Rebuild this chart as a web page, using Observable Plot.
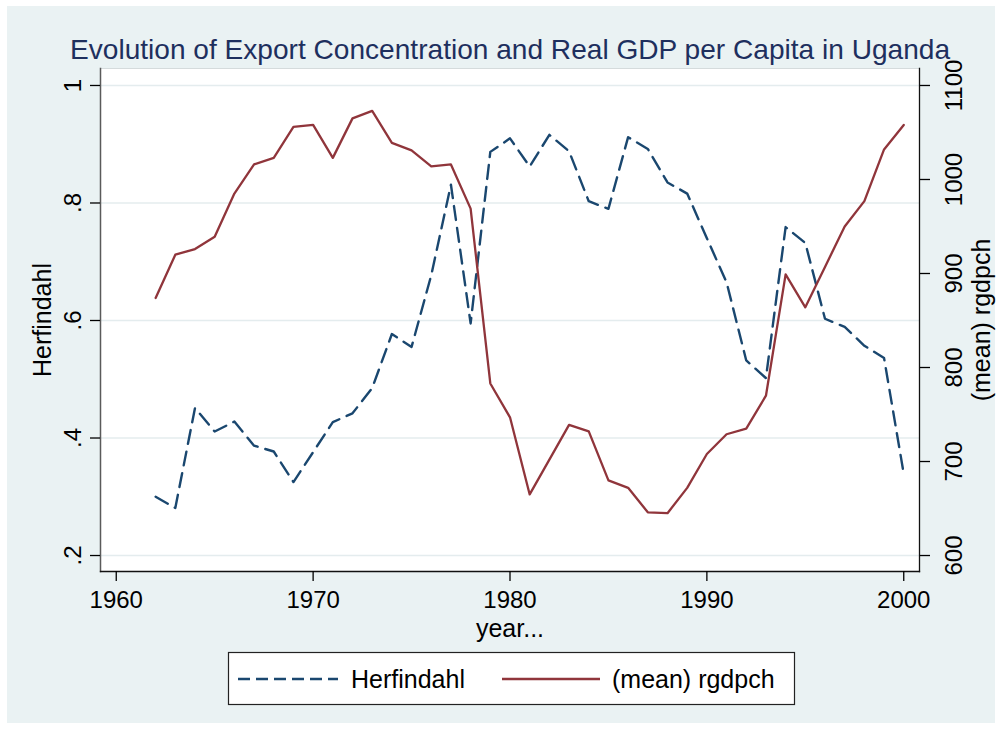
<!DOCTYPE html>
<html><head><meta charset="utf-8">
<script src="https://cdn.jsdelivr.net/npm/d3@7"></script>
<script src="https://cdn.jsdelivr.net/npm/@observablehq/plot@0.6"></script>
<style>
html,body{margin:0;padding:0;background:#fff;}
#wrap{position:relative;width:1000px;height:729px;overflow:hidden;}
#bg{position:absolute;left:7px;top:6px;width:988px;height:717px;background:#eaf2f3;}
#chart{position:absolute;left:0;top:0;}
</style></head><body>
<div id="wrap"><div id="bg"></div><div id="chart"></div></div>
<script>
const title = "Evolution of Export Concentration and Real GDP per Capita in Uganda";
const years = [1962,1963,1964,1965,1966,1967,1968,1969,1970,1971,1972,1973,1974,1975,1976,1977,1978,1979,1980,
  1981,1982,1983,1984,1985,1986,1987,1988,1989,1990,1991,1992,1993,1994,1995,1996,1997,1998,1999,2000];
const herfindahl = [0.300,0.281,0.451,0.411,0.428,0.387,0.377,0.325,0.376,0.427,0.442,0.485,0.577,0.555,0.677,0.831,0.595,0.887,0.910,
  0.862,0.916,0.888,0.803,0.790,0.912,0.892,0.835,0.816,0.740,0.665,0.532,0.502,0.759,0.732,0.603,0.589,0.557,0.536,0.339];
const rgdpch = [874,920,926,939,985,1016,1023,1056,1058,1023,1065,1073,1039,1031,1014,1016,969,783,747,
  665,702,739,732,680,672,646,645,672,708,729,735,770,899,864,907,950,977,1032,1058];
const xTicks = [1960,1970,1980,1990,2000];
const hTicks = [0.2,0.4,0.6,0.8,1];
const gTicks = [600,700,800,900,1000,1100];
const seriesNames = ["Herfindahl","(mean) rgdpch"];
const xTitle = "year...";

const FONT = "'Liberation Sans', Arial, Helvetica, sans-serif";
const BLUE = "#1a476f", RED = "#90353b";
const toV = g => 0.2 + (g - 600) / 500 * 0.8;
const fromV = v => 600 + (v - 0.2) / 0.8 * 500;
const fmtH = d => d === 1 ? "1" : String(+d.toFixed(1)).replace(/^0/, "");
const data = years.map((year, i) => ({year, h: herfindahl[i], g: rgdpch[i]}));

const plot = Plot.plot({
  width: 1000, height: 729,
  marginLeft: 100, marginRight: 81, marginTop: 68, marginBottom: 158,
  style: {background: "transparent", fontFamily: FONT, fontSize: "24px", color: "#000", overflow: "visible"},
  x: {domain: [1959.2, 2000.8], axis: null},
  y: {domain: [0.1728, 1.0289], axis: null},
  marks: [
    Plot.frame({fill: "white", stroke: null}),
    Plot.ruleY(hTicks, {stroke: "#e4ecee", strokeWidth: 1.6}),
    Plot.frame({anchor: "top", stroke: "#d5dbdc"}),
    Plot.frame({anchor: "left", stroke: "#5a5a5a", strokeWidth: 1.5}),
    Plot.frame({anchor: "right", stroke: "#111", strokeWidth: 1.3}),
    Plot.frame({anchor: "bottom", stroke: "#111", strokeWidth: 1.3}),
    Plot.axisX(xTicks, {anchor: "bottom", tickSize: 10, tickPadding: 9, strokeWidth: 1.3, tickFormat: d => String(d), label: null}),
    Plot.axisY(hTicks, {anchor: "left", tickSize: 10, tickPadding: 10, strokeWidth: 1.3, tickRotate: -90, tickFormat: fmtH, label: null}),
    Plot.axisY(gTicks.map(toV), {anchor: "right", tickSize: 10, tickPadding: 32, strokeWidth: 1.3, tickRotate: -90, lineAnchor: "bottom",
      tickFormat: v => String(Math.round(fromV(v))), label: null}),
    Plot.line(data, {x: "year", y: "h", stroke: BLUE, strokeWidth: 2.4, strokeDasharray: "14,8"}),
    Plot.line(data, {x: "year", y: d => toV(d.g), stroke: RED, strokeWidth: 2.3}),
    Plot.text([title], {text: d => d, frameAnchor: "top", dy: -10, lineAnchor: "bottom", textAnchor: "middle", fontSize: 28, fill: "#1e2f5e", className: "ttl"}),
    Plot.text([seriesNames[0]], {text: d => d, frameAnchor: "left", dx: -50, rotate: -90, lineAnchor: "bottom", textAnchor: "middle", fontSize: 25}),
    Plot.text([seriesNames[1]], {text: d => d, frameAnchor: "right", dx: 70, rotate: -90, lineAnchor: "bottom", textAnchor: "middle", fontSize: 25}),
    Plot.text([xTitle], {text: d => d, frameAnchor: "bottom", dy: 65, lineAnchor: "bottom", textAnchor: "middle", fontSize: 25})
  ]
});
document.getElementById("chart").appendChild(plot);

const svg = d3.select(plot);
svg.select(".ttl text").attr("textLength", 880).attr("lengthAdjust", "spacingAndGlyphs");

// legend
const lg = svg.append("g").attr("font-family", FONT).attr("font-size", 25).attr("text-anchor", "start");
lg.append("rect").attr("x", 228.5).attr("y", 652.5).attr("width", 566).attr("height", 52)
  .attr("fill", "white").attr("stroke", "#222").attr("stroke-width", 1.2);
lg.append("line").attr("x1", 238).attr("x2", 338).attr("y1", 679).attr("y2", 679)
  .attr("stroke", BLUE).attr("stroke-width", 2.4).attr("stroke-dasharray", "12,6");
lg.append("text").attr("x", 351).attr("y", 688).attr("text-anchor", "start").text(seriesNames[0]);
lg.append("line").attr("x1", 502).attr("x2", 600).attr("y1", 679).attr("y2", 679)
  .attr("stroke", RED).attr("stroke-width", 2.3);
lg.append("text").attr("x", 612).attr("y", 688).attr("text-anchor", "start").text(seriesNames[1]);
</script>
</body></html>
